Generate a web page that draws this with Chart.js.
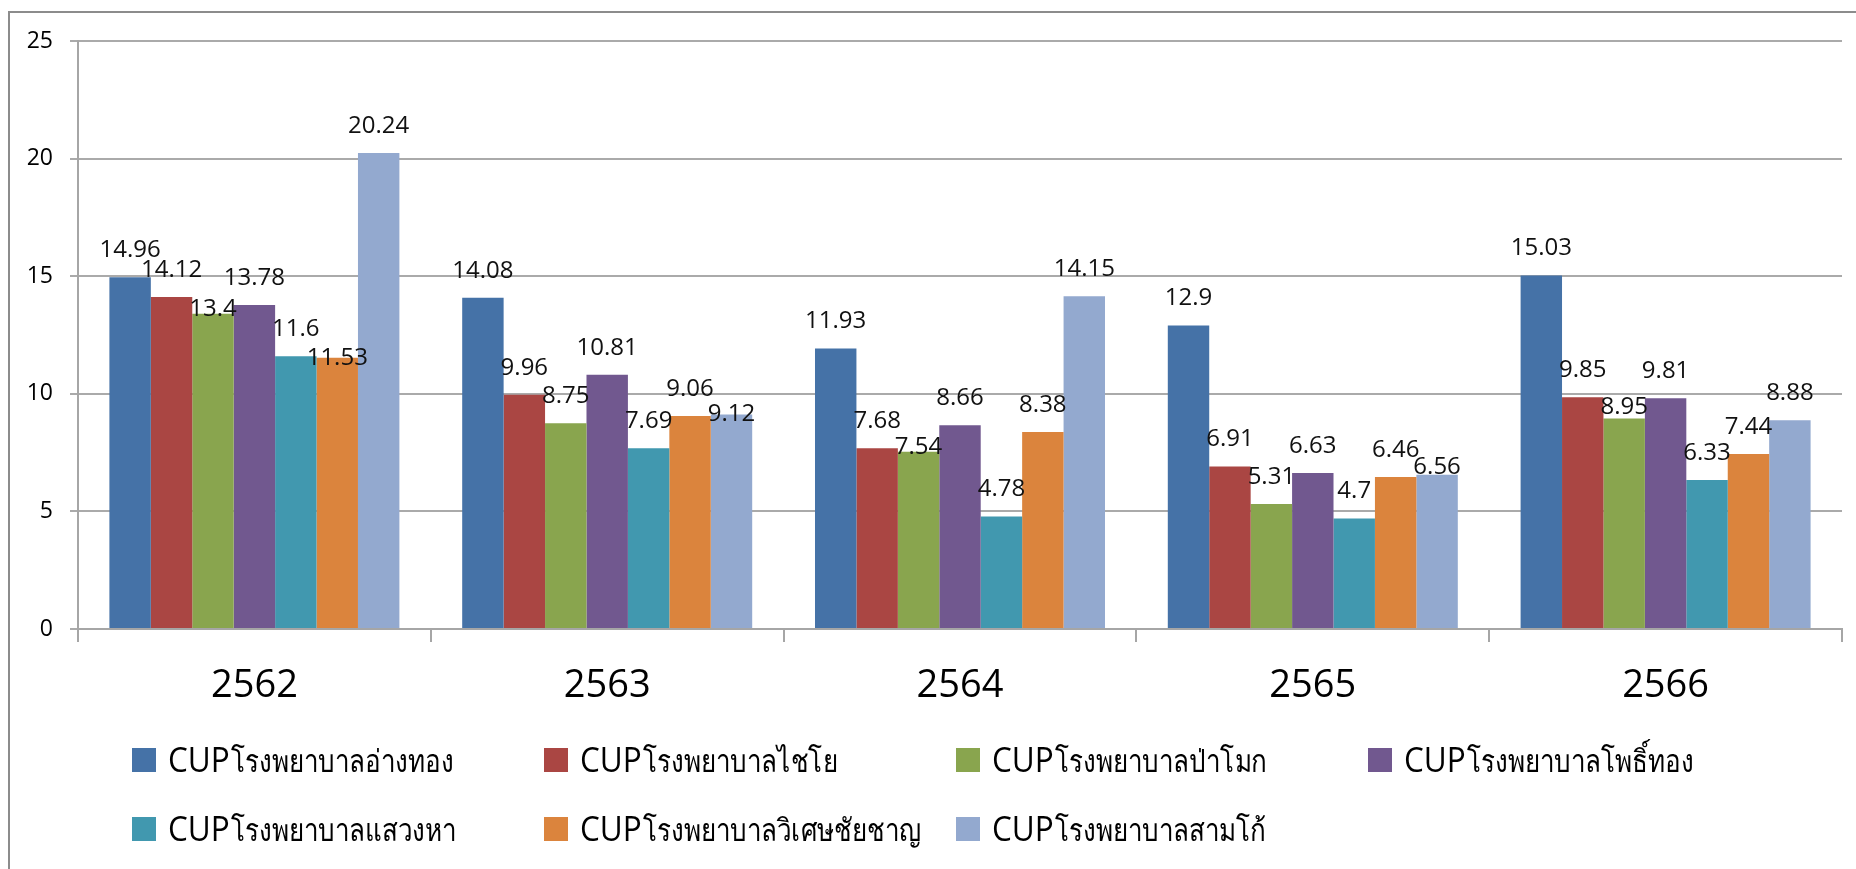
<!DOCTYPE html>
<html>
<head>
<meta charset="utf-8">
<script src="https://cdn.jsdelivr.net/npm/chart.js@4.4.0/dist/chart.umd.min.js"></script>
<style>
  body { margin: 0; background: #fff; overflow: hidden; }
  .frame { position: absolute; left: 8px; top: 11px; width: 1900px; height: 900px; border: 2px solid #8c8c8c; }
  #mycanvas { position: absolute; left: 0; top: 0; }
</style>
</head>
<body>
<div class="frame"></div>
<canvas id="mycanvas" width="1856" height="869"></canvas>
<script>
var years = ['2562', '2563', '2564', '2565', '2566'];
var hospitals = [
  'CUPโรงพยาบาลอ่างทอง',
  'CUPโรงพยาบาลไชโย',
  'CUPโรงพยาบาลป่าโมก',
  'CUPโรงพยาบาลโพธิ์ทอง',
  'CUPโรงพยาบาลแสวงหา',
  'CUPโรงพยาบาลวิเศษชัยชาญ',
  'CUPโรงพยาบาลสามโก้'
];
var angThong = [14.96, 14.08, 11.93, 12.9, 15.03];
var chaiYo = [14.12, 9.96, 7.68, 6.91, 9.85];
var paMok = [13.4, 8.75, 7.54, 5.31, 8.95];
var phoThong = [13.78, 10.81, 8.66, 6.63, 9.81];
var sawaengHa = [11.6, 7.69, 4.78, 4.7, 6.33];
var wisetChaiChan = [11.53, 9.06, 8.38, 6.46, 7.44];
var samKo = [20.24, 9.12, 14.15, 6.56, 8.88];
var yTicks = [0, 5, 10, 15, 20, 25];

var colors = ['#4572a7', '#aa4643', '#89a54e', '#71588f', '#4198af', '#db843d', '#93a9cf'];
var series = [angThong, chaiYo, paMok, phoThong, sawaengHa, wisetChaiChan, samKo];

// labels that sit lower than the usual 27px above the bar (moved by hand in the original)
var labelLift = { '2-0': 5, '5-0': 0, '6-1': 0, '2-2': 5, '6-3': 8, '2-4': 11 };

var datasets = [];
for (var i in series) {
  datasets.push({
    label: hospitals[i],
    data: series[i],
    backgroundColor: colors[i],
    borderWidth: 0
  });
}

var valueLabels = {
  id: 'valueLabels',
  afterDatasetsDraw: function (chart) {
    var c = chart.ctx;
    c.save();
    c.font = '24px "Open Sans"';
    c.fillStyle = '#111';
    c.textAlign = 'center';
    c.textBaseline = 'middle';
    chart.data.datasets.forEach(function (ds, d) {
      chart.getDatasetMeta(d).data.forEach(function (bar, k) {
        var lift = labelLift[d + '-' + k];
        if (lift === undefined) lift = 27;
        c.fillText(String(ds.data[k]), bar.x, bar.y - lift);
      });
    });
    c.restore();
  }
};

// legend laid out on a fixed 4-column grid like the original
var gridLegend = {
  id: 'gridLegend',
  afterDraw: function (chart) {
    var c = chart.ctx;
    c.save();
    c.textBaseline = 'middle';
    chart.data.datasets.forEach(function (ds, i) {
      var x = 132 + (i % 4) * 412;
      var y = 760 + Math.floor(i / 4) * 69;
      c.fillStyle = ds.backgroundColor;
      c.fillRect(x, y - 12, 24, 24);
      c.fillStyle = '#000';
      var head = ds.label.slice(0, 3);
      var rest = ds.label.slice(3);
      c.save();
      c.translate(x + 36, y + 2);
      c.scale(0.9, 1);
      c.font = '35px "Open Sans"';
      c.fillText(head, 0, 0);
      var w = c.measureText(head).width * 0.9;
      c.restore();
      c.save();
      c.translate(x + 36 + w + 1, y + 3);
      c.scale(0.84, 1);
      c.font = '31px "Open Sans"';
      c.fillText(rest, 0, 0);
      c.restore();
    });
    c.restore();
  }
};

var ctx = document.getElementById("mycanvas").getContext('2d');

var barGraph = new Chart(ctx, {
  type: 'bar',
  data: { labels: years, datasets: datasets },
  plugins: [valueLabels, gridLegend],
  options: {
    responsive: false,
    animation: false,
    layout: { padding: { left: 0, right: 14, top: 41, bottom: 140 } },
    datasets: { bar: { categoryPercentage: 0.822, barPercentage: 1 } },
    plugins: { legend: { display: false }, tooltip: { enabled: false } },
    scales: {
      x: {
        grid: { offset: true, drawOnChartArea: false, color: '#a6a6a6', lineWidth: 2, tickLength: 13 },
        border: { color: '#a6a6a6', width: 2 },
        ticks: { color: '#000', font: { family: 'Open Sans', size: 38 }, padding: 21 },
        afterFit: function (scale) { scale.height = 100; }
      },
      y: {
        min: yTicks[0],
        max: yTicks[yTicks.length - 1],
        grid: { color: '#aaaaaa', lineWidth: 2, tickLength: 8 },
        border: { color: '#a6a6a6', width: 2 },
        ticks: { stepSize: yTicks[1] - yTicks[0], color: '#000', font: { family: 'Open Sans', size: 23 }, padding: 17 },
        afterFit: function (scale) { scale.width = 78; }
      }
    }
  }
});
</script>
</body>
</html>
